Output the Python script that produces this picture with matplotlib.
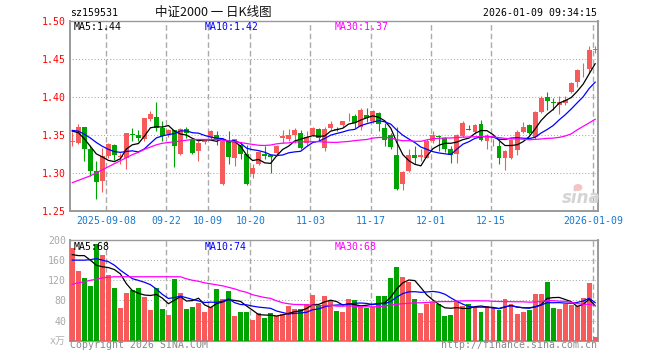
import numpy as np
import pandas as pd
import matplotlib
matplotlib.use('Agg')
import matplotlib.pyplot as plt
from matplotlib.patches import Ellipse

# daily K-line of sz159531, 2025-08-29 .. 2026-01-09 (88 trading days)
opens = [1.341, 1.340, 1.360, 1.332, 1.303, 1.289, 1.322, 1.337, 1.321, 1.320,
         1.351, 1.350, 1.345, 1.371, 1.373, 1.359, 1.351, 1.356, 1.325, 1.358,
         1.343, 1.329, 1.341, 1.347, 1.350, 1.285, 1.342, 1.320, 1.337, 1.325,
         1.298, 1.312, 1.325, 1.323, 1.326, 1.346, 1.345, 1.350, 1.352, 1.339,
         1.350, 1.358, 1.333, 1.359, 1.358, 1.363, 1.373, 1.375, 1.361, 1.376,
         1.368, 1.379, 1.359, 1.350, 1.324, 1.285, 1.302, 1.324, 1.321, 1.320,
         1.342, 1.348, 1.346, 1.331, 1.325, 1.348, 1.358, 1.354, 1.365, 1.342,
         1.339, 1.335, 1.319, 1.319, 1.330, 1.354, 1.363, 1.347, 1.380, 1.400,
         1.393, 1.389, 1.392, 1.407, 1.420, 1.439, 1.437, 1.462]
highs = [1.354, 1.364, 1.360, 1.337, 1.315, 1.333, 1.340, 1.338, 1.326, 1.353,
         1.359, 1.356, 1.372, 1.381, 1.394, 1.368, 1.358, 1.357, 1.359, 1.361,
         1.345, 1.342, 1.345, 1.357, 1.355, 1.343, 1.355, 1.345, 1.340, 1.337,
         1.311, 1.329, 1.335, 1.324, 1.337, 1.357, 1.358, 1.359, 1.357, 1.355,
         1.360, 1.359, 1.360, 1.368, 1.361, 1.369, 1.379, 1.378, 1.385, 1.385,
         1.383, 1.380, 1.366, 1.353, 1.361, 1.302, 1.331, 1.335, 1.332, 1.344,
         1.355, 1.350, 1.347, 1.335, 1.351, 1.368, 1.363, 1.365, 1.370, 1.351,
         1.345, 1.342, 1.330, 1.345, 1.356, 1.367, 1.365, 1.381, 1.401, 1.406,
         1.399, 1.401, 1.401, 1.420, 1.437, 1.445, 1.468, 1.468]
lows = [1.335, 1.338, 1.315, 1.296, 1.265, 1.275, 1.320, 1.317, 1.311, 1.305,
        1.342, 1.342, 1.342, 1.368, 1.355, 1.342, 1.347, 1.308, 1.324, 1.346,
        1.325, 1.315, 1.338, 1.345, 1.337, 1.284, 1.311, 1.309, 1.318, 1.284,
        1.293, 1.310, 1.318, 1.300, 1.322, 1.340, 1.342, 1.340, 1.331, 1.337,
        1.348, 1.342, 1.329, 1.357, 1.355, 1.361, 1.368, 1.359, 1.357, 1.367,
        1.366, 1.355, 1.336, 1.332, 1.277, 1.277, 1.301, 1.311, 1.315, 1.319,
        1.340, 1.329, 1.328, 1.313, 1.313, 1.347, 1.356, 1.351, 1.342, 1.332,
        1.336, 1.311, 1.304, 1.318, 1.323, 1.352, 1.351, 1.345, 1.379, 1.383,
        1.383, 1.377, 1.390, 1.405, 1.413, 1.426, 1.432, 1.458]
closes = [1.342, 1.361, 1.331, 1.303, 1.288, 1.322, 1.338, 1.323, 1.322, 1.352,
          1.350, 1.346, 1.372, 1.377, 1.359, 1.348, 1.356, 1.335, 1.358, 1.352,
          1.326, 1.340, 1.343, 1.355, 1.344, 1.342, 1.321, 1.344, 1.325, 1.285,
          1.306, 1.328, 1.322, 1.321, 1.335, 1.348, 1.350, 1.356, 1.333, 1.347,
          1.359, 1.346, 1.358, 1.365, 1.357, 1.368, 1.374, 1.366, 1.383, 1.372,
          1.381, 1.364, 1.343, 1.334, 1.278, 1.301, 1.324, 1.319, 1.324, 1.342,
          1.350, 1.347, 1.332, 1.324, 1.350, 1.366, 1.357, 1.363, 1.343, 1.349,
          1.340, 1.319, 1.329, 1.343, 1.354, 1.360, 1.352, 1.380, 1.399, 1.395,
          1.392, 1.394, 1.396, 1.419, 1.436, 1.440, 1.462, 1.463]
# volume, 10k lots
volumes = [184.8, 138.4, 125.2, 108.6, 192.0, 170.2, 130.5, 105.3, 65.6, 94.7,
           100.7, 105.3, 87.4, 60.9, 105.3, 62.9, 51.0, 122.5, 94.7, 62.9,
           66.9, 74.8, 57.0, 66.9, 102.6, 82.8, 98.7, 49.0, 57.0, 57.0,
           41.0, 55.0, 45.0, 55.0, 49.0, 53.0, 68.9, 62.9, 62.9, 72.8,
           90.7, 70.9, 88.7, 79.0, 58.9, 57.0, 82.8, 80.1, 67.5, 64.9,
           66.9, 88.7, 88.7, 124.5, 146.4, 126.5, 116.6, 82.8, 55.0, 72.8,
           76.8, 72.8, 49.0, 51.0, 78.8, 68.9, 72.8, 66.9, 57.0, 68.9,
           64.9, 60.9, 82.8, 72.8, 53.0, 57.0, 60.9, 92.7, 92.7, 116.6,
           64.9, 62.9, 72.8, 70.9, 68.9, 84.8, 114.6, 7.3]

# moving averages at the start of the window (history before it is not shown)
ma5_head = [1.355, 1.353, 1.345, 1.335]
ma10_head = [1.356, 1.355, 1.351, 1.346, 1.340, 1.335, 1.331, 1.328, 1.327]
ma30_head = [1.287, 1.290, 1.293, 1.296, 1.300, 1.304, 1.308, 1.312, 1.316, 1.320,
             1.324, 1.327, 1.331, 1.334, 1.337, 1.339, 1.340, 1.341, 1.342, 1.343,
             1.344, 1.344, 1.344, 1.344, 1.344, 1.343, 1.342, 1.341, 1.340]
vol_ma5_head = [171, 169, 169, 160]
vol_ma10_head = [160, 160, 160, 161, 163, 160, 157, 150, 140]
vol_ma30_head = [112, 115, 117, 120, 122, 125, 126, 127, 127, 127,
                 127, 127, 127, 127, 127, 127, 127, 127, 127, 123,
                 120, 118, 115, 113, 111, 109, 106, 103, 99]

tick_idx = [6, 16, 23, 30, 40, 50, 60, 70, 87]
tick_labels = ['2025-09-08', '09-22', '10-09', '10-20', '11-03',
               '11-17', '12-01', '12-15', '2026-01-09']
price_ticks = [1.25, 1.30, 1.35, 1.40, 1.45, 1.50]
vol_ticks = [40, 80, 120, 160, 200]

RED = '#f65a5a'
GREEN = '#00a400'
GRID = '#aaaaaa'
SPINE = '#9a9a9a'
MONO = 'DejaVu Sans Mono'
FS = 7.1


def moving_avg(values, n, head):
    ma = pd.Series(values).rolling(n).mean().to_numpy()
    ma[:len(head)] = head
    return ma


def px(x, y):
    # figure pixel position -> figure fraction
    return x / 660, 1 - y / 360


o = np.array(opens)
c = np.array(closes)
x = np.arange(len(closes))
up = c >= o
colors = np.where(up, RED, GREEN)

fig = plt.figure(figsize=(6.6, 3.6), dpi=100)
fig.patch.set_facecolor('white')

L, R = 70.3, 597.7
ax = fig.add_axes([L / 660, 1 - 210.7 / 360, (R - L) / 660, (210.7 - 20.5) / 360])
axv = fig.add_axes([L / 660, 1 - 340.7 / 360, (R - L) / 660, (340.7 - 240) / 360])

for a in (ax, axv):
    a.set_xlim(-0.33, 87.42)
    for s in a.spines.values():
        s.set_color(SPINE)
        s.set_linewidth(1.4)
    a.spines['top'].set_linewidth(1.0)
    a.tick_params(length=0)
    a.vlines(np.array(tick_idx) - 0.38, 0, 1, transform=a.get_xaxis_transform(),
             color=GRID, lw=1, linestyles=(0, (4, 2.2)), zorder=1)

# candles
ax.set_ylim(1.25, 1.501)
ax.vlines(x, lows, highs, color=colors, lw=0.8, zorder=3)
body = np.maximum(np.abs(c - o), 0.0008)
ax.bar(x, body, bottom=np.minimum(o, c), width=0.82, color=colors, lw=0, zorder=3)
ax.hlines(price_ticks[1:-1], -1, 100, color=GRID, lw=0.75, linestyles=(0, (1, 2)), zorder=1)
ax.plot(x, moving_avg(closes, 5, ma5_head), color='black', lw=0.9, zorder=4)
ax.plot(x, moving_avg(closes, 10, ma10_head), color='#0000ff', lw=0.9, zorder=4)
ax.plot(x, moving_avg(closes, 30, ma30_head), color='#ff00ff', lw=0.9, zorder=4)

ax.set_yticks(price_ticks)
ax.set_yticklabels([f'{v:.2f}' for v in price_ticks], color='#ff0000',
                   fontsize=FS, family=MONO)
ax.tick_params(axis='y', pad=3)
ax.set_xticks(np.array(tick_idx) - 0.38)
ax.set_xticklabels(tick_labels, color='#1478d0', fontsize=FS, family=MONO)
ax.tick_params(axis='x', pad=4)

# volume
axv.set_ylim(0, 200)
axv.bar(x, volumes, width=0.82, color=colors, lw=0, zorder=3)
axv.hlines(vol_ticks[:-1], -1, 100, color=GRID, lw=0.75, linestyles=(0, (1, 2)), zorder=1)
axv.plot(x, moving_avg(volumes, 5, vol_ma5_head), color='black', lw=0.9, zorder=4)
axv.plot(x, moving_avg(volumes, 10, vol_ma10_head), color='#0000ff', lw=0.9, zorder=4)
axv.plot(x, moving_avg(volumes, 30, vol_ma30_head), color='#ff00ff', lw=0.9, zorder=4)
axv.set_yticks(vol_ticks)
axv.set_yticklabels([str(v) for v in vol_ticks], color='#a8a8a8', fontsize=FS, family=MONO)
axv.tick_params(axis='y', pad=3)
axv.set_xticks([])

# header texts
fig.text(*px(70, 13), 'sz159531', fontsize=FS, family=MONO, va='center', ha='left')
fig.text(*px(213, 12.5), '中证2000 一 日K线图', fontsize=9,
         family=['Noto Sans CJK SC', 'DejaVu Sans'], va='center', ha='center', color='#111111')
fig.text(*px(597, 13), '2026-01-09 09:34:15', fontsize=FS, family=MONO, va='center', ha='right')

# MA legends
for (xx, yy, s, col) in [(74, 26.5, 'MA5:1.44', 'black'), (205, 26.5, 'MA10:1.42', '#0000ff'),
                         (335, 26.5, 'MA30:1.37', '#ff00ff'), (74, 246.5, 'MA5:68', 'black'),
                         (205, 246.5, 'MA10:74', '#0000ff'), (335, 246.5, 'MA30:68', '#ff00ff')]:
    t = fig.text(*px(xx, yy), s, fontsize=FS, family=MONO, color=col, va='center', ha='left')
    t.set_zorder(0)

fig.text(*px(66, 341), 'x万', fontsize=FS, family=['DejaVu Sans Mono', 'Noto Sans CJK SC'],
         color='#b0b0b0', va='center', ha='right')

# sina watermark
fig.text(*px(581, 198), 'sina', fontsize=12, fontweight='bold', style='italic',
         color='#d4d4d4', va='center', ha='center')
fig.patches.append(Ellipse(px(578, 187.5), 9 / 660, 7 / 360, transform=fig.transFigure,
                           facecolor='#f4c4c4', edgecolor='none', zorder=5))

# footer
fig.text(*px(70, 345.5), 'Copyright 2026 SINA.COM', fontsize=FS, family=MONO,
         color='#888888', va='center', ha='left')
fig.text(*px(597, 345.5), 'http://finance.sina.com.cn', fontsize=FS, family=MONO,
         color='#888888', va='center', ha='right')

fig.savefig('out.png', dpi=100)
